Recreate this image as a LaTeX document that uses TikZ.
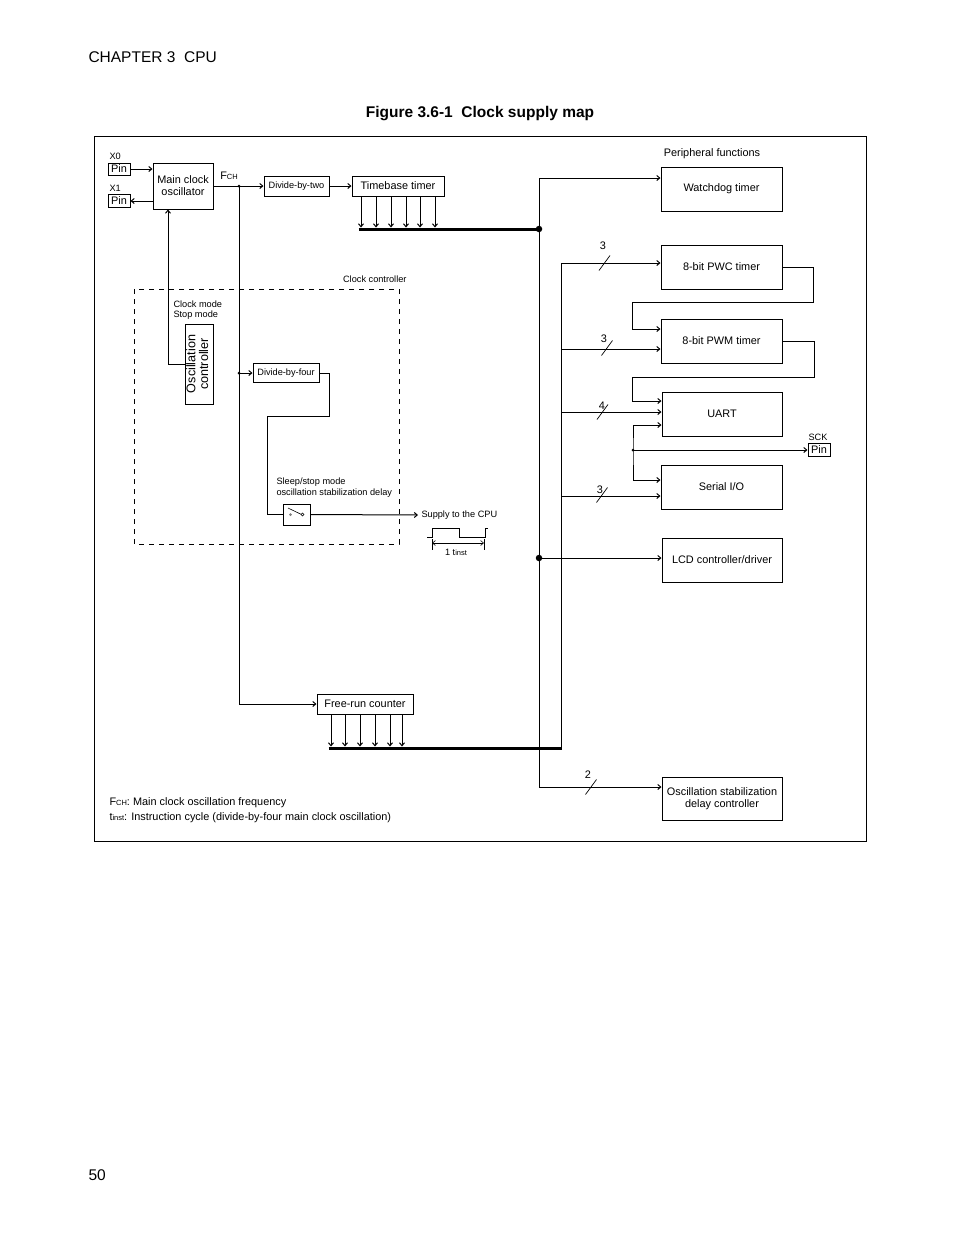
\documentclass[tikz,border=0pt]{standalone}
\usepackage{fontspec}
\setmainfont{Liberation Sans}
\usetikzlibrary{arrows.meta}

\newcommand{\subtxt}[1]{{\fontsize{7.5}{8}\selectfont #1}}

\tikzset{
  blk/.style={draw, line width=1pt, inner sep=0pt, align=center, font=\fontsize{10.9}{12}\selectfont},
  lbl/.style={inner sep=0pt, font=\fontsize{10.9}{12}\selectfont},
  sml/.style={inner sep=0pt, align=left, font=\fontsize{9.2}{10.5}\selectfont},
  dot/.style={circle, fill, inner sep=0pt, minimum size=3pt},
  bigdot/.style={circle, fill, inner sep=0pt, minimum size=6.5pt},
  bus/.style={line width=3pt},
}

\begin{document}
\begin{tikzpicture}[x=1pt, y=-1pt, line width=1pt, >={Straight Barb[length=3pt,width=5pt]}]

\useasboundingbox (0,0) rectangle (954,1235);

% Page heading
\node[anchor=west, inner sep=0pt, font=\fontsize{15.5}{18}\selectfont] (chap) at (88,57) {CHAPTER 3\ \ CPU};
\node[inner sep=0pt, font=\bfseries\fontsize{15.5}{18}\selectfont] (title) at (480,114) {Figure 3.6-1\ \ Clock supply map};
\node[anchor=west, inner sep=0pt, font=\fontsize{15.5}{18}\selectfont] (page) at (88,1175) {50};

% Frame
\draw (94,136) rectangle (866,841);

% Clock controller area
\draw[dash pattern=on 5pt off 5pt] (134,289) rectangle (399,544);
\node[sml, anchor=east] (cclbl) at (407,279) {Clock controller};

% Oscillator and pins
\node[blk, minimum width=22, minimum height=12] (pinA) at (119,169) {Pin};
\node[blk, minimum width=22, minimum height=13] (pinB) at (119,201) {Pin};
\node[sml, anchor=west] at (109,156) {X0};
\node[sml, anchor=west] at (109,188) {X1};
\node[blk, minimum width=60, minimum height=46] (osc) at (183,186) {Main clock\\oscillator};

\draw[->] (pinA.east) -- (pinA.east -| osc.west);
\draw[->] (osc.west |- pinB.east) -- (pinB.east);

% Dividers and timers
\node[blk, minimum width=65, minimum height=20, font=\fontsize{9.2}{10}\selectfont] (div2) at (296.5,186) {Divide-by-two};
\node[blk, minimum width=92, minimum height=20] (tbt) at (398,186) {Timebase timer};
\node[blk, minimum width=66, minimum height=19, font=\fontsize{9.2}{10}\selectfont] (div4) at (286,373) {Divide-by-four};
\node[blk, minimum width=96, minimum height=20] (frc) at (365,704) {Free-run counter};

\coordinate (fch) at (239,186);
\node[lbl] (fchlbl) at (229,176) {F\subtxt{CH}};

\draw[->] (osc) -- (div2);
\draw[->] (div2) -- (tbt);
\node[dot] at (fch) {};
\draw[->] (fch) |- (frc.west);
\draw[->] (fch |- div4.west) -- (div4.west);
\node[dot] at (fch |- div4.west) {};

% Oscillation controller
\node[draw, inner sep=0pt, minimum width=28, minimum height=80] (oscctl) at (199,364)
  {\rotatebox{90}{\fontsize{12.6}{12}\selectfont\begin{tabular}{@{}c@{}}Oscillation\\controller\end{tabular}}};
\node[sml, anchor=west] (modelbl) at (173,310) {Clock mode\\Stop mode};
\draw[->] (oscctl.west) -| ([xshift=-15pt]osc.south);

% Sleep/stop switch
\node[draw, inner sep=0pt, minimum width=27, minimum height=21] (sw) at (296.5,514.5) {};
\draw[line width=0.6pt] ([xshift=-8.5pt,yshift=6.5pt]sw.center) -- ([xshift=5pt]sw.center);
\node[circle, fill=gray, inner sep=0pt, minimum size=3pt] at ([xshift=-6pt]sw.center) {};
\node[circle, draw, fill=white, line width=0.6pt, inner sep=0pt, minimum size=3pt] at ([xshift=6pt]sw.center) {};
\node[sml, anchor=west] (sleeplbl) at (276,487.5) {Sleep/stop mode\\oscillation stabilization delay};
\draw (div4.east) -- ++(10,0) |- (267,416) |- (sw.west);
\node[sml, anchor=west] (cpu) at (421,515) {Supply to the CPU};
\draw[->] (sw.east) -- ([xshift=-3pt]cpu.west);

% Instruction cycle waveform
\draw[line width=0.8pt] (427,537) -- (432,537) -- (432,528) -- (459,528) -- (459,537) -- (485,537) -- (485,528) -- (488,528);
\draw[line width=0.6pt] (432,539) -- (432,550);
\draw[line width=0.6pt] (484,539) -- (484,550);
\draw[<->, line width=0.6pt] (432,543) -- (484,543);
\node[sml] (tinst) at (456,552) {1 t\subtxt{inst}};

% Timer outputs onto buses
\coordinate (tbbus) at (539,229);
\coordinate (frbus) at (561,748);
\foreach \x in {361,376,391,406,420,435} {
  \draw[->, shorten >=1.5pt] (\x,0 |- tbt.south) -- (\x,0 |- tbbus);
}
\foreach \x in {331,345,360,375,390,402} {
  \draw[->, shorten >=1.5pt] (\x,0 |- frc.south) -- (\x,0 |- frbus);
}
\draw[bus] ([xshift=7pt]tbt.south west |- tbbus) -- (tbbus);
\draw[bus] ([xshift=12pt]frc.south west |- frbus) -- ([xshift=1pt]frbus);

% Peripheral functions
\node[lbl] (perlbl) at (712,154) {Peripheral functions};
\node[blk, minimum width=121, minimum height=44] (wdt) at (721.5,189) {Watchdog timer};
\node[blk, minimum width=121, minimum height=44] (pwc) at (721.5,267) {8-bit PWC timer};
\node[blk, minimum width=121, minimum height=44] (pwm) at (721.5,341) {8-bit PWM timer};
\node[blk, minimum width=120, minimum height=44] (uart) at (722,414) {UART};
\node[blk, minimum width=121, minimum height=44] (sio) at (721.5,487) {Serial I/O};
\node[blk, minimum width=120, minimum height=44] (lcd) at (722,560) {LCD controller/driver};
\node[blk, minimum width=120, minimum height=43] (osd) at (722,798.5) {Oscillation stabilization\\delay controller};
\node[blk, minimum width=22, minimum height=13] (pinS) at (819,450) {Pin};
\node[sml] at (818,437) {SCK};

% Timebase trunk
\coordinate (trkA) at (539,178);
\coordinate (lcdin) at ([yshift=2pt]lcd.west);
\draw[->] (trkA) -- ([yshift=11pt]wdt.west);
\draw[->] (trkA) |- ([yshift=11.5pt]osd.west);
\draw[->] (trkA |- lcdin) -- (lcdin);
\node[bigdot] at (tbbus) {};
\node[bigdot] at (trkA |- lcdin) {};

% Free-run trunk
\coordinate (pwmin) at ([yshift=-8pt]pwm.west);
\coordinate (uartin) at ([yshift=2pt]uart.west);
\coordinate (sioin) at ([yshift=-9pt]sio.west);
\draw[->] (frbus) |- ([yshift=4pt]pwc.west);
\draw[->] (frbus |- pwmin) -- (pwmin);
\draw[->] (frbus |- uartin) -- (uartin);
\draw[->] (frbus |- sioin) -- (sioin);

% Bit-width marks
\foreach \sx/\sy/\lx/\ly/\n in {604.5/263/603/246/3, 607/348/604/339/3, 602.5/412/602/406/4, 602/495/600/490/3, 591/787/588/775/2} {
  \draw[line width=0.7pt] (\sx-5.5,\sy+7.5) -- (\sx+5.5,\sy-7.5);
  \node[lbl] at (\lx,\ly) {\n};
}

% Chained timers and serial
\coordinate (sck) at (633,450);
\draw[->] (pwc.east) -- ++(31,0) |- (632,302) |- ([yshift=12pt]pwm.west);
\draw[->] (pwm.east) -- ++(32,0) |- (632,377) |- ([yshift=13pt]uart.west);
\draw[<->] ([yshift=-11pt]uart.west) -| (sck) |- ([yshift=7pt]sio.west);
\draw[->] (sck) -- (pinS.west);
\node[dot] at (sck) {};

% Notes
\node[lbl, anchor=west] (note1) at (109,803) {F\subtxt{CH}: Main clock oscillation frequency};
\node[lbl, anchor=west] (note2) at (109,818) {t\subtxt{inst}: Instruction cycle (divide-by-four main clock oscillation)};

\end{tikzpicture}
\end{document}
